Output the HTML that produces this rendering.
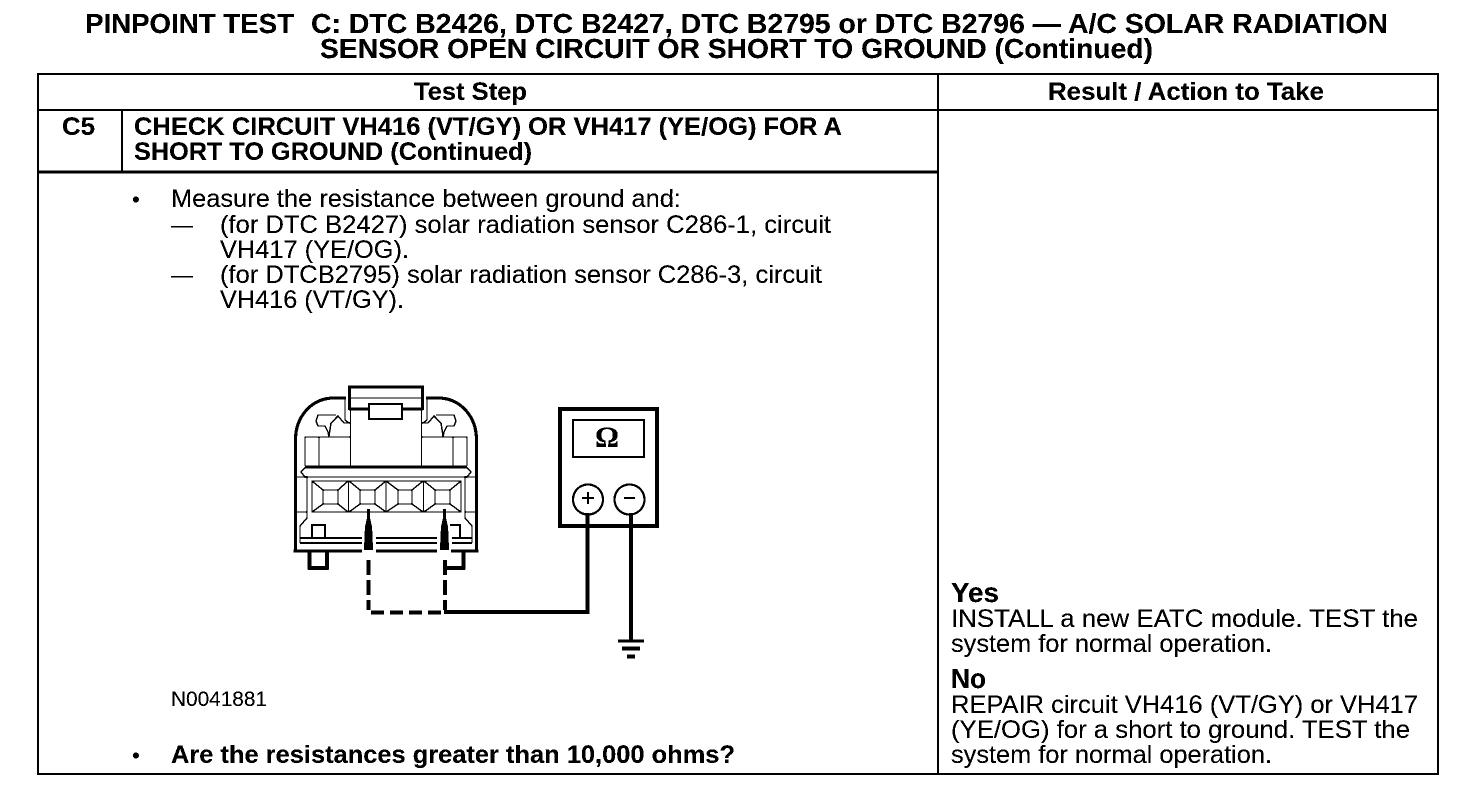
<!DOCTYPE html>
<html><head><meta charset="utf-8"><style>
html,body{margin:0;padding:0;background:#fff}
svg{display:block;filter:url(#bilevel)}
text{font-family:"Liberation Sans",Arial,sans-serif;fill:#000}
.b{font-weight:bold}
</style></head><body>
<svg width="1472" height="804" viewBox="0 0 1472 804" xmlns="http://www.w3.org/2000/svg">
<defs><filter id="bilevel" x="0" y="0" width="100%" height="100%" color-interpolation-filters="sRGB"><feComponentTransfer><feFuncR type="discrete" tableValues="0 0 1"/><feFuncG type="discrete" tableValues="0 0 1"/><feFuncB type="discrete" tableValues="0 0 1"/></feComponentTransfer></filter></defs>
<rect width="1472" height="804" fill="#fff"/>
<g font-size="27.5">
<text class="b" x="85" y="33" textLength="209" lengthAdjust="spacingAndGlyphs">PINPOINT TEST</text>
<text class="b" x="311" y="33" textLength="1077" lengthAdjust="spacingAndGlyphs">C: DTC B2426, DTC B2427, DTC B2795 or DTC B2796 — A/C SOLAR RADIATION</text>
<text class="b" x="320" y="58" textLength="833" lengthAdjust="spacingAndGlyphs">SENSOR OPEN CIRCUIT OR SHORT TO GROUND (Continued)</text>
</g>
<g fill="none" stroke="#000" stroke-width="2">
<rect x="38" y="74" width="1400" height="700"/>
<path d="M38 110H1438M938 74V774M122 110V172"/>
<path d="M38 172H938" stroke-width="3"/>
</g>
<g font-size="25">
<text class="b" x="414" y="100" textLength="113" lengthAdjust="spacingAndGlyphs">Test Step</text>
<text class="b" x="1048" y="100" textLength="276" lengthAdjust="spacingAndGlyphs">Result / Action to Take</text>
<text class="b" x="62" y="135" textLength="33" lengthAdjust="spacingAndGlyphs">C5</text>
<text class="b" x="134" y="135" textLength="708" lengthAdjust="spacingAndGlyphs">CHECK CIRCUIT VH416 (VT/GY) OR VH417 (YE/OG) FOR A</text>
<text class="b" x="134" y="160" textLength="398" lengthAdjust="spacingAndGlyphs">SHORT TO GROUND (Continued)</text>
<text x="132" y="207" font-size="22">•</text>
<text x="171" y="207" textLength="510" lengthAdjust="spacingAndGlyphs">Measure the resistance between ground and:</text>
<text x="171" y="233" textLength="22" lengthAdjust="spacingAndGlyphs">—</text>
<text x="220" y="233" textLength="611" lengthAdjust="spacingAndGlyphs">(for DTC B2427) solar radiation sensor C286-1, circuit</text>
<text x="220" y="258" textLength="189" lengthAdjust="spacingAndGlyphs">VH417 (YE/OG).</text>
<text x="171" y="283" textLength="22" lengthAdjust="spacingAndGlyphs">—</text>
<text x="220" y="283" textLength="602" lengthAdjust="spacingAndGlyphs">(for DTCB2795) solar radiation sensor C286-3, circuit</text>
<text x="220" y="308" textLength="184" lengthAdjust="spacingAndGlyphs">VH416 (VT/GY).</text>
<text x="171" y="706" font-size="21" textLength="96" lengthAdjust="spacingAndGlyphs">N0041881</text>
<text x="132" y="763" font-size="22">•</text>
<text class="b" x="171" y="763" textLength="564" lengthAdjust="spacingAndGlyphs">Are the resistances greater than 10,000 ohms?</text>
<text class="b" x="951" y="602" font-size="28" textLength="48" lengthAdjust="spacingAndGlyphs">Yes</text>
<text x="951" y="627" textLength="467" lengthAdjust="spacingAndGlyphs">INSTALL a new EATC module. TEST the</text>
<text x="951" y="652" textLength="321" lengthAdjust="spacingAndGlyphs">system for normal operation.</text>
<text class="b" x="951" y="688" font-size="28" textLength="35" lengthAdjust="spacingAndGlyphs">No</text>
<text x="951" y="713" textLength="467" lengthAdjust="spacingAndGlyphs">REPAIR circuit VH416 (VT/GY) or VH417</text>
<text x="951" y="738" textLength="459" lengthAdjust="spacingAndGlyphs">(YE/OG) for a short to ground. TEST the</text>
<text x="951" y="763" textLength="321" lengthAdjust="spacingAndGlyphs">system for normal operation.</text>
</g>
<!-- connector -->
<g fill="none" stroke="#000" stroke-width="3">
<path d="M349.5 410V387H422.5V410"/>
<path d="M349 409H369M402 409H423"/>
<path d="M295.5 552V440C295.5 416 312 398 334 398H346M476.5 552V440C476.5 416 460 398 438 398H426"/>
<path d="M293.5 551H362M376 551H437M451 551H478.5"/>
<path d="M309.5 550V568H327V550M446 568H463.5V550" stroke-width="3.5"/>
</g>
<g fill="none" stroke="#000" stroke-width="1.3">
<path d="M349 398H423"/>
<rect x="369" y="404" width="33" height="15" stroke-width="2"/>
<path d="M350.5 408V467M421.5 408V467"/>
<path d="M345 398V420L349 423M427 398V420L423 423"/>
<path d="M336 415H318L316 421L318 426H325L328 432L329 437"/>
<path d="M329 436L331 423L338 416L344 423H350"/>
<path d="M436 415H454L456 421L454 426H447L444 432L443 437"/>
<path d="M443 436L441 423L434 416L428 423H422"/>
<path d="M305 466V437H350M467 466V437H422M319 437V467M453 437V467"/>
<path d="M305 467.5H467L471 472L467 477H305L301 472Z" />
<path d="M305 467H467" stroke-width="2.5"/>
<path d="M297 477H307V518L300 526V543M475 477H465V518L472 526V543M297 512H307M475 512H465"/>
<rect x="312" y="481" width="149" height="31"/>
<path d="M348.5 481V512M386 481V512M423.5 481V512"/>
<path d="M323 490H338V504H323ZM360 490H375V504H360ZM398 490H412V504H398ZM435 490H450V504H435Z"/>
<path d="M312 481L323 490M348 481L338 490M312 512L323 504M348 512L338 504M349 481L360 490M386 481L375 490M349 512L360 504M386 512L375 504M386 481L398 490M423 481L412 490M386 512L398 504M423 512L412 504M424 481L435 490M461 481L450 490M424 512L435 504M461 512L450 504"/>
<path d="M300 538H362M300 543H362M376 538H437M376 543H437M452 538H472M452 543H472" stroke-width="2"/>
<rect x="312" y="525" width="13" height="13" stroke-width="2"/>
<path d="M450 525H460V538" stroke-width="2"/>
</g>
<!-- probes -->
<g fill="#000" stroke="none">
<path d="M367 509H370V518L372 527L373 550H364L365 527L367 518Z"/>
<path d="M443 509H446V518L448 527L449 550H440L441 527L443 518Z"/>
</g>
<g fill="none" stroke="#000" stroke-width="4">
<path d="M368.5 550V610M445 550V610" stroke-dasharray="0 10 15 5 15 5 15"/>
<path d="M371 612.5H444" stroke-dasharray="13 6"/>
<path d="M444 612H587.5V513"/>
<path d="M631 513V641"/>
<rect x="560" y="409" width="97" height="117"/>
</g>
<rect x="573" y="420" width="71" height="37" fill="none" stroke="#000" stroke-width="2"/>
<text x="595" y="447" font-size="30" class="b" style="font-family:'Liberation Serif','DejaVu Serif',serif">Ω</text>
<circle cx="588" cy="499.5" r="15" fill="none" stroke="#000" stroke-width="2"/>
<circle cx="629.5" cy="499.5" r="15" fill="none" stroke="#000" stroke-width="2"/>
<path d="M582 498H594M588 492V504M624 498H635" stroke="#000" stroke-width="2" fill="none"/>
<path d="M618 641H644" stroke="#000" stroke-width="3" fill="none"/>
<path d="M622 648.5H640M627 656.5H635" stroke="#000" stroke-width="4" fill="none"/>
</svg>
</body></html>
